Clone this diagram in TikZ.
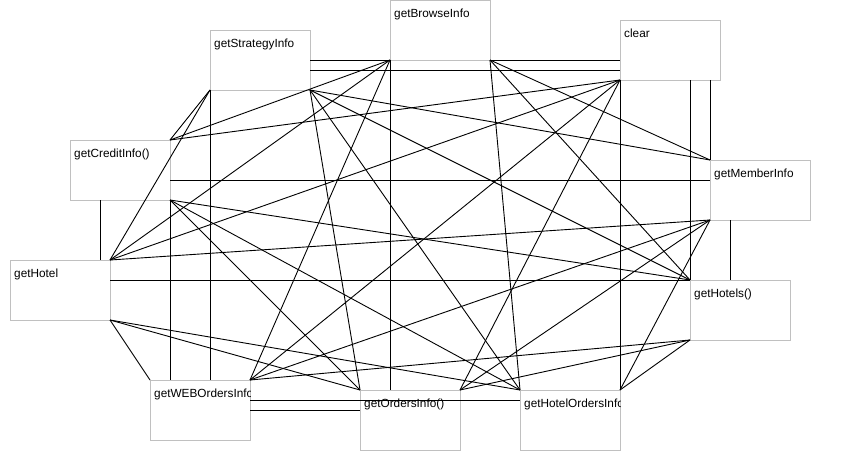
\documentclass[tikz,border=0pt]{standalone}
\usepackage{fontspec}
\setmainfont{Liberation Sans}
\usetikzlibrary{calc}
\definecolor{boxgray}{RGB}{192,192,192}
\tikzset{
  box/.style={draw=boxgray, line width=1pt, minimum width=100pt, minimum height=60pt,
    inner sep=0pt, outer sep=0pt, anchor=north west},
  lbl/.style={anchor=base west, inner sep=0pt, font=\fontsize{11.8pt}{14pt}\selectfont},
  conn/.style={draw=black, line width=0.9pt}
}
\newcommand{\boxlabel}[2]{%
  \begin{scope}
    \clip (#1.north west) rectangle (#1.south east);
    \node[lbl] (#1-t) at ($(#1.north west)+(4,17)$) {#2};
  \end{scope}}
\begin{document}
\begin{tikzpicture}[x=1pt, y=-1pt]
\useasboundingbox[fill=white] (0,0) rectangle (850,463);
% boxes
\node[box] (S)  at (210,30)  {};
\node[box] (B)  at (390,0)   {};
\node[box] (C)  at (620,20)  {};
\node[box] (Cr) at (70,140)  {};
\node[box] (M)  at (710,160) {};
\node[box] (H)  at (10,260)  {};
\node[box] (Hs) at (690,280) {};
\node[box] (W)  at (150,380) {};
\node[box] (O)  at (360,390) {};
\node[box] (HO) at (520,390) {};
\boxlabel{S}{getStrategyInfo}
\boxlabel{B}{getBrowseInfo}
\boxlabel{C}{clear}
\boxlabel{Cr}{getCreditInfo()}
\boxlabel{M}{getMemberInfo}
\boxlabel{H}{getHotel}
\boxlabel{Hs}{getHotels()}
\boxlabel{W}{getWEBOrdersInfo}
\boxlabel{O}{getOrdersInfo()}
\boxlabel{HO}{getHotelOrdersInfo}
% horizontal connectors
\draw[conn] (S.east) -- (B.south west);
\draw[conn] ($(S.east)+(0,10)$) -- ($(C.south west)+(0,-10)$);
\draw[conn] (B.south east) -- ($(C.west)+(0,10)$);
\draw[conn] ($(Cr.east)+(0,10)$) -- ($(M.west)+(0,-10)$);
\draw[conn] ($(H.east)+(0,-10)$) -- (Hs.north west);
\draw[conn] ($(W.east)+(0,-10)$) -- ($(HO.north west)+(0,10)$);
\draw[conn] (W.east) -- ($(O.west)+(0,-10)$);
\draw[conn] ($(O.north east)+(0,10)$) -- ($(HO.north west)+(0,10)$);
% vertical connectors
\draw[conn] (S.south west) -- ($(W.north west)+(60,0)$);
\draw[conn] (Cr.south east) -- ($(W.north west)+(20,0)$);
\draw[conn] ($(Cr.south west)+(30,0)$) -- ($(H.north east)+(-10,0)$);
\draw[conn] (B.south west) -- ($(O.north west)+(30,0)$);
\draw[conn] (C.south west) -- (HO.north east);
\draw[conn] ($(C.south west)+(70,0)$) -- (Hs.north west);
\draw[conn] ($(C.south west)+(90,0)$) -- (M.north west);
\draw[conn] ($(M.south west)+(20,0)$) -- ($(Hs.north west)+(40,0)$);
% diagonal connectors
\draw[conn] (S.south west) -- (Cr.north east);
\draw[conn] (S.south east) -- (M.north west);
\draw[conn] (S.south west) -- (H.north east);
\draw[conn] (S.south east) -- (Hs.north west);
\draw[conn] (S.south east) -- (O.north west);
\draw[conn] (S.south east) -- (HO.north west);
\draw[conn] (B.south west) -- (Cr.north east);
\draw[conn] (B.south east) -- (M.north west);
\draw[conn] (B.south west) -- (H.north east);
\draw[conn] (B.south east) -- (Hs.north west);
\draw[conn] (B.south west) -- (W.north east);
\draw[conn] (B.south east) -- (HO.north west);
\draw[conn] (C.south west) -- (Cr.north east);
\draw[conn] (C.south west) -- (H.north east);
\draw[conn] (C.south west) -- (W.north east);
\draw[conn] (C.south west) -- (O.north east);
\draw[conn] (Cr.south east) -- (Hs.north west);
\draw[conn] (Cr.south east) -- (O.north west);
\draw[conn] (Cr.south east) -- (HO.north west);
\draw[conn] (M.south west) -- (H.north east);
\draw[conn] (M.south west) -- (W.north east);
\draw[conn] (M.south west) -- (O.north east);
\draw[conn] (M.south west) -- (HO.north east);
\draw[conn] (H.south east) -- (W.north west);
\draw[conn] (H.south east) -- (O.north west);
\draw[conn] (H.south east) -- (HO.north west);
\draw[conn] (Hs.south west) -- (W.north east);
\draw[conn] (Hs.south west) -- (O.north east);
\draw[conn] (Hs.south west) -- (HO.north east);
\end{tikzpicture}
\end{document}
